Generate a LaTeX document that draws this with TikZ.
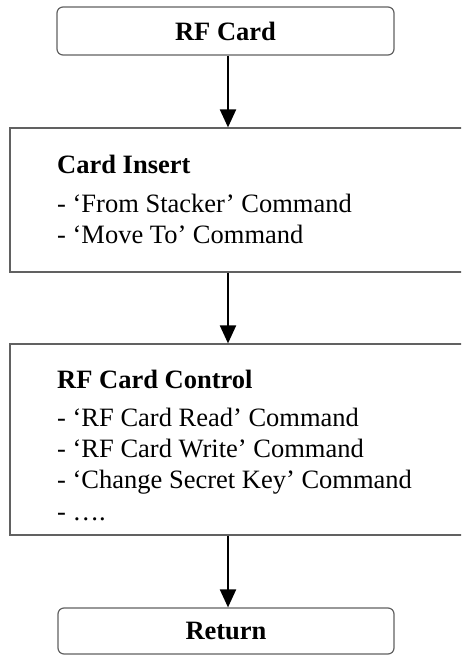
\documentclass[tikz,border=0pt]{standalone}
\usepackage{fontspec}
\setmainfont{Liberation Serif}
\usetikzlibrary{arrows.meta}
\begin{document}
\begin{tikzpicture}[x=1pt,y=-1pt,
  box/.style={draw=black!62, line width=1.2pt, inner sep=0pt},
  rbox/.style={box, rounded corners=6pt, font=\fontsize{26.5}{31}\selectfont\bfseries},
  txt/.style={anchor=base west, inner sep=0pt, font=\fontsize{26.5}{31}\selectfont},
  ttl/.style={txt, font=\fontsize{26.5}{31}\selectfont\bfseries},
  arr/.style={line width=2.1pt, -{Triangle[length=18pt,width=16pt]}}]
\clip (0,0) rectangle (461,655);
\coordinate (ax) at (228,0);
% boxes
\node[rbox, minimum width=337pt, minimum height=48pt] (rf) at (225.5,31) {RF Card};
\node[box, minimum width=460pt, minimum height=144pt] (ins) at (240,200) {};
\node[box, minimum width=460pt, minimum height=191pt] (ctl) at (240,439.5) {};
\node[rbox, minimum width=336pt, minimum height=46pt] (ret) at (226,631) {Return};
% texts
\node[ttl] (t1) at (57,174) {Card Insert};
\node[txt] (t1a) at (57,212) {- ‘From Stacker’ Command};
\node[txt] (t1b) at (57,243) {- ‘Move To’ Command};
\node[ttl] (t2) at (57,388) {RF Card Control};
\node[txt] (t2a) at (57,426) {- ‘RF Card Read’ Command};
\node[txt] (t2b) at (57,457) {- ‘RF Card Write’ Command};
\node[txt] (t2c) at (57,488) {- ‘Change Secret Key’ Command};
\node[txt] (t2d) at (57,520) {- ….};
% arrows
\draw[arr] (rf.south -| ax) -- (ins.north -| ax);
\draw[arr] (ins.south -| ax) -- (ctl.north -| ax);
\draw[arr] (ctl.south -| ax) -- (ret.north -| ax);
\end{tikzpicture}
\end{document}
